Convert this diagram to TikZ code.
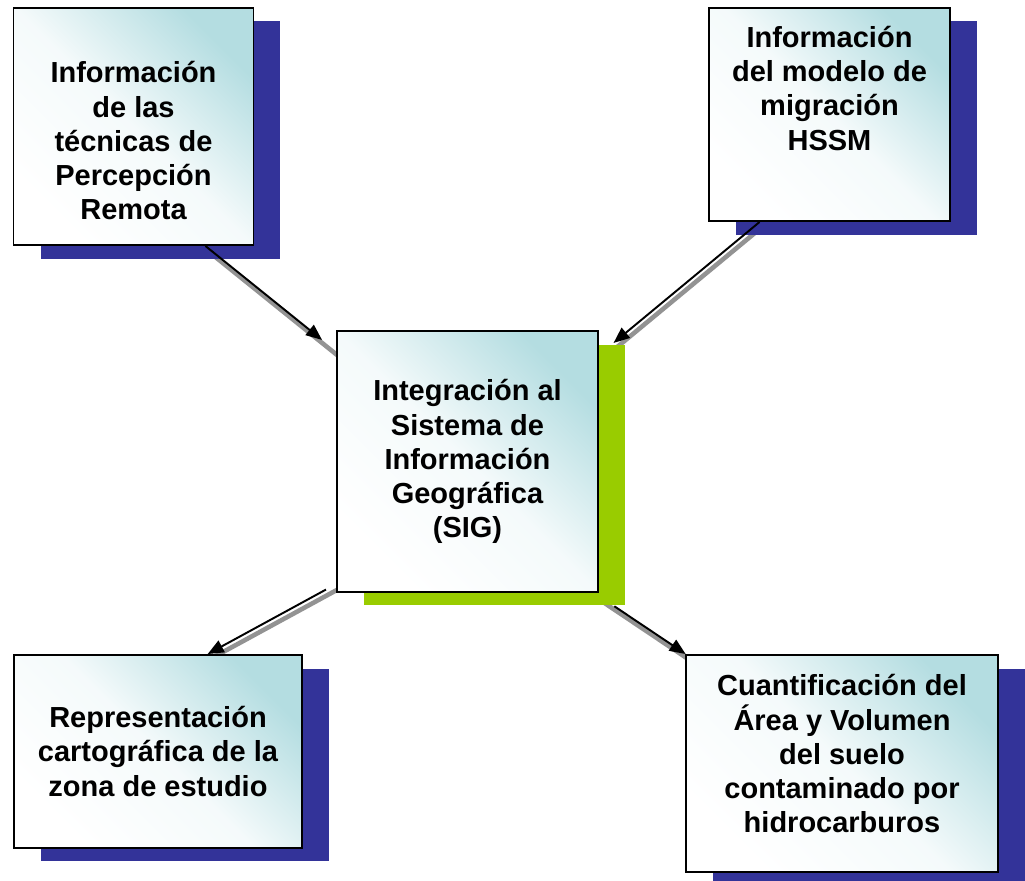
\documentclass[tikz,border=0pt]{standalone}
\usepackage{fontspec}
\setmainfont{Liberation Sans}
\usetikzlibrary{arrows.meta,shadows,positioning,backgrounds}
\definecolor{boxteal}{RGB}{180,221,225}
\definecolor{shadowblue}{RGB}{51,51,153}
\definecolor{shadowgreen}{RGB}{153,204,0}

\begin{document}
\begin{tikzpicture}[
    x=0.02cm, y=-0.02cm,
    box/.style={draw=black, line width=1.1pt, inner sep=0pt, align=center,
        top color=boxteal, bottom color=white, middle color=boxteal!14!white, shading angle=-45,
        font=\bfseries\fontsize{16.5}{19.4}\selectfont},
    source/.style={box, drop shadow={shadow xshift=0.54cm, shadow yshift=-0.27cm, fill=shadowblue, opacity=1}},
    hub/.style={box, drop shadow={shadow xshift=0.54cm, shadow yshift=-0.27cm, fill=shadowgreen, opacity=1}},
    arrow/.style={-{Triangle[length=0.32cm, width=0.26cm]}, line width=1.1pt, black},
    arrowshadow/.style={line width=2.6pt, gray!85, transform canvas={shift={(0.05cm,-0.1cm)}}}
]
\useasboundingbox (0,0) rectangle (1025,881);

% Inputs
\node[source, minimum width=4.8cm, minimum height=4.75cm] (percep) at (133.5,126.3) {\rule{0pt}{1cm}Información\\de las\\técnicas de\\Percepción\\Remota};
\node[source, minimum width=4.82cm, minimum height=4.27cm, text depth=1.04cm] (hssm) at (829.5,114.3) {Información\\del modelo de\\migración\\HSSM};

% SIG
\node[hub, minimum width=5.22cm, minimum height=5.22cm] (sig) at (467.5,461.5) {Integración al\\Sistema de\\Información\\Geográfica\\(SIG)};

% Outputs
\node[source, minimum width=5.76cm, minimum height=3.86cm] (carto) at (158,751.5) {Representación\\cartográfica de la\\zona de estudio};
\node[source, minimum width=6.24cm, minimum height=4.34cm, text depth=0.4cm] (cuant) at (842,763.5) {Cuantificación del\\Área y Volumen\\del suelo\\contaminado por\\hidrocarburos};

% Arrow shadows
\begin{scope}[on background layer]
    \draw[arrowshadow] (percep.-59.1) -- (sig.140.6);
    \draw[arrowshadow] (hssm.-123.6) -- (sig.39.2);
    \draw[arrowshadow] (sig.-137.8) -- (carto.63.6);
    \draw[arrowshadow] (sig.-46.8) -- (cuant.145);
\end{scope}

% Arrows
\draw[arrow, shorten >=0.36cm] (percep.-59.1) -- (sig.140.6);
\draw[arrow, shorten >=0.38cm] (hssm.-123.6) -- (sig.39.2);
\draw[arrow, shorten <=0.23cm] (sig.-137.8) -- (carto.63.6);
\draw[arrow, shorten <=0.48cm] (sig.-46.8) -- (cuant.145);

\end{tikzpicture}
\end{document}
